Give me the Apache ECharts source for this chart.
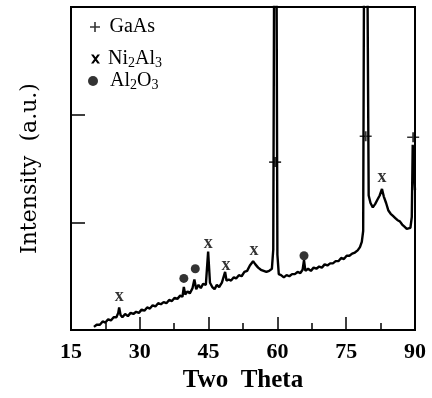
<!DOCTYPE html>
<html>
<head>
<meta charset="utf-8">
<script src="https://cdn.jsdelivr.net/npm/echarts@6/dist/echarts.min.js"></script>
<style>
  html, body { margin: 0; padding: 0; background: #fff; }
  #main { width: 432px; height: 398px; }
</style>
</head>
<body>
<div id="main"></div>
<script>
// scan angles (2 theta) and intensity (a.u.)
var twoTheta = [
  20.0, 20.6, 21.3, 21.9, 22.5, 23.1, 23.7, 24.3, 24.9, 25.3, 25.5, 25.8, 26.2, 26.8, 27.4, 28.0,
  28.6, 29.2, 29.8, 30.4, 31.0, 31.6, 32.2, 32.8, 33.4, 34.0, 34.6, 35.2, 35.8, 36.4, 37.0, 37.6,
  38.2, 38.8, 39.3, 39.6, 39.9, 40.4, 40.9, 41.5, 41.9, 42.3, 42.8, 43.3, 43.8, 44.4, 44.9, 45.3,
  45.8, 46.3, 46.8, 47.3, 47.9, 48.3, 48.6, 48.9, 49.4, 49.9, 50.5, 51.0, 51.6, 52.2, 52.8, 53.4,
  54.0, 54.7, 55.2, 55.8, 56.4, 57.0, 57.6, 58.2, 58.8, 59.1, 59.3, 59.8, 60.0, 60.3, 60.8, 61.4,
  62.0, 62.6, 63.2, 63.8, 64.4, 65.0, 65.5, 65.8, 66.1, 66.7, 67.3, 67.9, 68.5, 69.1, 69.7, 70.3,
  70.9, 71.5, 72.1, 72.7, 73.3, 73.9, 74.5, 75.1, 75.7, 76.3, 76.9, 77.5, 78.0, 78.4, 78.7, 78.9,
  79.6, 79.9, 80.3, 80.8, 81.3, 81.8, 82.3, 82.8, 83.2, 83.7, 84.2, 84.7, 85.2, 85.7, 86.2, 86.7,
  87.2, 87.7, 88.2, 88.6, 89.0, 89.3, 89.5, 89.8, 90.0
];
var intensity = [
  0.03, 0.05, 0.05, 0.08, 0.07, 0.10, 0.09, 0.12, 0.12, 0.16, 0.21, 0.14, 0.12, 0.15, 0.13, 0.16,
  0.15, 0.17, 0.16, 0.19, 0.18, 0.21, 0.20, 0.23, 0.22, 0.25, 0.24, 0.26, 0.25, 0.28, 0.27, 0.30,
  0.29, 0.32, 0.31, 0.40, 0.33, 0.36, 0.34, 0.39, 0.47, 0.38, 0.42, 0.39, 0.43, 0.42, 0.73, 0.44,
  0.40, 0.38, 0.42, 0.40, 0.44, 0.43, 0.54, 0.46, 0.47, 0.46, 0.49, 0.48, 0.51, 0.50, 0.54, 0.55,
  0.60, 0.64, 0.61, 0.58, 0.56, 0.55, 0.54, 0.55, 0.57, 0.75, 3.5, 3.5, 0.70, 0.52, 0.51, 0.49,
  0.51, 0.50, 0.52, 0.52, 0.54, 0.53, 0.56, 0.65, 0.55, 0.57, 0.55, 0.58, 0.57, 0.59, 0.58, 0.61,
  0.60, 0.62, 0.62, 0.64, 0.64, 0.67, 0.66, 0.69, 0.69, 0.71, 0.72, 0.74, 0.77, 0.82, 0.92, 3.5,
  3.5, 1.25, 1.18, 1.14, 1.17, 1.21, 1.25, 1.31, 1.24, 1.18, 1.11, 1.08, 1.06, 1.04, 1.02, 1.01,
  0.98, 0.96, 0.94, 0.93, 0.95, 1.05, 1.72, 1.72, 1.30
];

// phase markers [2 theta, height]
var gaasMarks = [[59.5, 1.56], [79.25, 1.80], [89.6, 1.79]];
var ni2al3Marks = [[25.5, 0.31], [44.9, 0.81], [48.8, 0.60], [54.9, 0.74], [82.8, 1.42]];
var al2o3Marks = [[39.6, 0.48], [42.1, 0.57], [65.8, 0.69]];

var xTicks = { min: 15, max: 90, step: 15 };

var plusPath = 'path://M0,4.2H10V5.8H0Z M4.2,0H5.8V10H4.2Z';
var crossPath = 'path://M0,0H2.8L10,10H7.2Z M7.2,0H10L2.8,10H0Z';

var serif = 'Liberation Serif';
var rich = {
  t: { fontFamily: serif, fontSize: 20, lineHeight: 22, color: '#000' },
  s: { fontFamily: serif, fontSize: 14, lineHeight: 6, verticalAlign: 'bottom', color: '#000' }
};
var names = {
  'GaAs': '{t|GaAs}',
  'Ni2Al3': '{t|Ni}{s|2}{t|Al}{s|3}',
  'Al2O3': '{t|Al}{s|2}{t|O}{s|3}'
};
function fmt(n) { return names[n]; }

var line = twoTheta.map(function (t, i) { return [t, intensity[i]]; });

var chartDom = document.getElementById('main');
var myChart = echarts.init(chartDom);
var option = {
  animation: false,
  backgroundColor: '#fff',
  grid: { left: 71, right: 17, top: 7, bottom: 67, show: true, borderColor: '#000', borderWidth: 2 },
  legend: [
    { data: [{ name: 'GaAs', icon: plusPath, itemStyle: { color: '#000' } }], left: 90, top: 17, padding: 0,
      itemWidth: 11, itemHeight: 10, formatter: fmt, textStyle: { rich: rich, padding: [0, 0, 0, 4] } },
    { data: [{ name: 'Ni2Al3', icon: crossPath, itemStyle: { color: '#000', opacity: 1 } }], left: 91, top: 49, padding: 0,
      itemWidth: 9, itemHeight: 9, formatter: fmt, textStyle: { rich: rich, padding: [0, 0, 0, 3] } },
    { data: [{ name: 'Al2O3', icon: 'circle', itemStyle: { color: '#000' } }], left: 88, top: 71, padding: 0,
      itemWidth: 10, itemHeight: 10, formatter: fmt, textStyle: { rich: rich, padding: [0, 0, 0, 7] } }
  ],
  xAxis: {
    type: 'value',
    min: xTicks.min,
    max: xTicks.max,
    interval: xTicks.step,
    name: 'Two  Theta',
    nameLocation: 'middle',
    nameGap: 30,
    nameTextStyle: { fontFamily: serif, fontWeight: 'bold', fontSize: 25, color: '#000' },
    axisLine: { show: false },
    axisTick: { inside: true, length: 13, lineStyle: { color: '#000', width: 1.5 } },
    minorTick: { show: true, splitNumber: 2, length: 7, lineStyle: { color: '#000', width: 1.5 } },
    axisLabel: { margin: 11, fontFamily: serif, fontWeight: 'bold', fontSize: 22, color: '#000' },
    splitLine: { show: false }
  },
  yAxis: {
    type: 'value',
    min: 0,
    max: 3,
    interval: 1,
    name: 'Intensity  (a.u.)',
    nameLocation: 'middle',
    nameGap: 30,
    nameTextStyle: { fontFamily: 'DejaVu Serif', fontSize: 22, color: '#000' },
    axisLine: { show: false },
    axisTick: { inside: true, length: 14, lineStyle: { color: '#000', width: 1.5 } },
    axisLabel: { show: false },
    splitLine: { show: false }
  },
  series: [
    {
      name: 'XRD',
      type: 'line',
      data: line,
      symbol: 'none',
      clip: true,
      lineStyle: { color: '#000', width: 2.4 },
      z: 2
    },
    {
      name: 'GaAs',
      type: 'scatter',
      data: gaasMarks,
      symbol: plusPath,
      symbolSize: [12, 10],
      itemStyle: { color: '#000' },
      z: 3
    },
    {
      name: 'Ni2Al3',
      type: 'scatter',
      data: ni2al3Marks,
      symbol: 'circle',
      symbolSize: 1,
      itemStyle: { color: 'rgba(0,0,0,0)' },
      label: {
        show: true,
        position: 'inside',
        formatter: 'x',
        fontFamily: serif,
        fontWeight: 'bold',
        fontSize: 18,
        color: '#000'
      },
      z: 3
    },
    {
      name: 'Al2O3',
      type: 'scatter',
      data: al2o3Marks,
      symbol: 'circle',
      symbolSize: 9,
      itemStyle: { color: '#000' },
      z: 3
    }
  ]
};
option && myChart.setOption(option);
</script>
</body>
</html>
